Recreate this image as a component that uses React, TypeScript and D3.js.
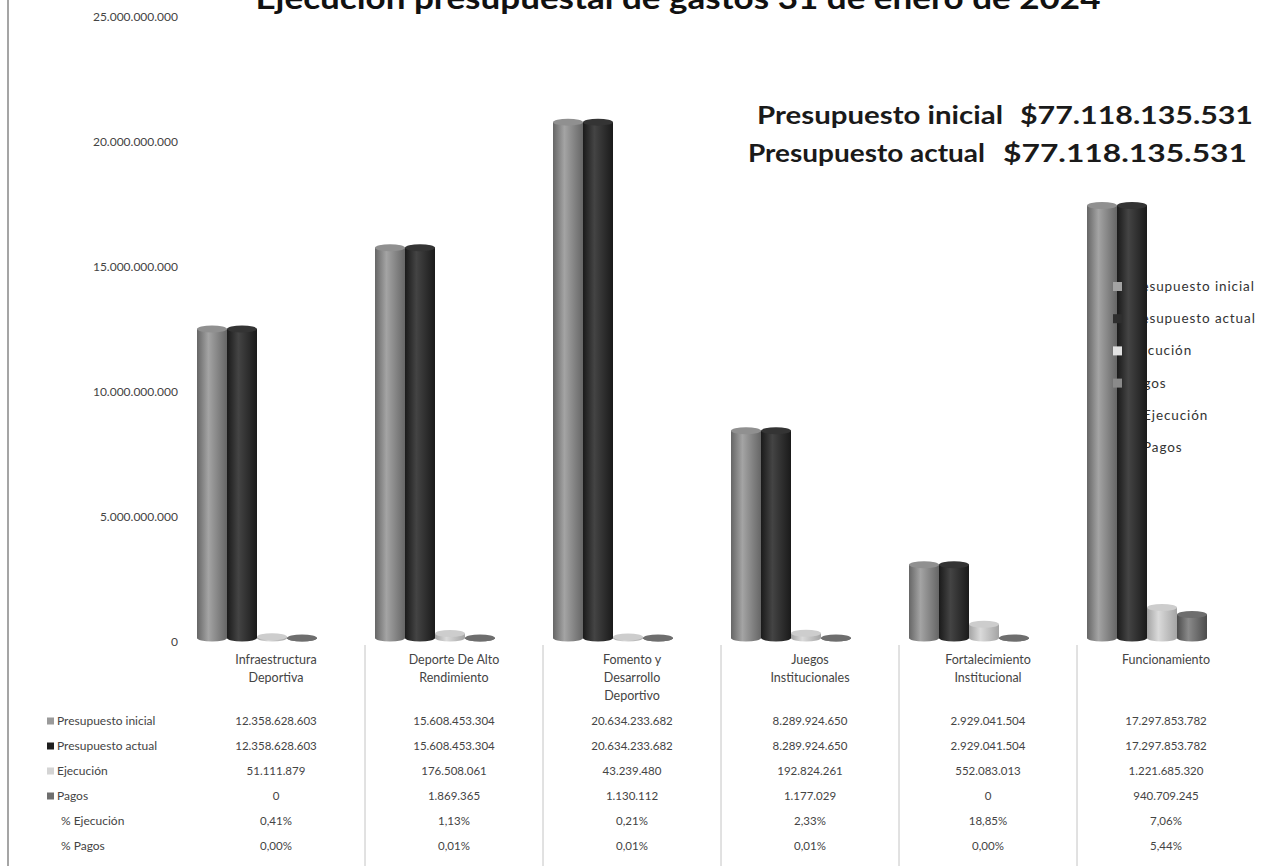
import * as d3 from 'd3'

const W = 1274
const H = 866

// categories (line-broken the way the chart's table shows them)
const categories = [
  'Infraestructura Deportiva',
  'Deporte De Alto Rendimiento',
  'Fomento y Desarrollo Deportivo',
  'Juegos Institucionales',
  'Fortalecimiento Institucional',
  'Funcionamiento',
]
const categoryLines = [
  ['Infraestructura', 'Deportiva'],
  ['Deporte De Alto', 'Rendimiento'],
  ['Fomento y', 'Desarrollo', 'Deportivo'],
  ['Juegos', 'Institucionales'],
  ['Fortalecimiento', 'Institucional'],
  ['Funcionamiento'],
]

const presupuestoInicial = [12358628603, 15608453304, 20634233682, 8289924650, 2929041504, 17297853782]
const presupuestoActual = [12358628603, 15608453304, 20634233682, 8289924650, 2929041504, 17297853782]
const ejecucion = [51111879, 176508061, 43239480, 192824261, 552083013, 1221685320]
const pagos = [0, 1869365, 1130112, 1177029, 0, 940709245]
const pctEjecucion = [0.41, 1.13, 0.21, 2.33, 18.85, 7.06]
const pctPagos = [0.0, 0.01, 0.01, 0.01, 0.0, 5.44]

const yTicks = [0, 5e9, 10e9, 15e9, 20e9, 25e9]

const title = 'Ejecución presupuestal de gastos 31 de enero de 2024'
const totalInicial = 77118135531
const totalActual = 77118135531

const series = [
  { key: 'inicial', name: 'Presupuesto inicial', values: presupuestoInicial, edge: '#666', mid: '#a4a4a4', top: '#909090' },
  { key: 'actual', name: 'Presupuesto actual', values: presupuestoActual, edge: '#1a1a1a', mid: '#444', top: '#343434' },
  { key: 'ejec', name: 'Ejecución', values: ejecucion, edge: '#a4a4a4', mid: '#dadada', top: '#cdcdcd' },
  { key: 'pagos', name: 'Pagos', values: pagos, edge: '#4c4c4c', mid: '#8a8a8a', top: '#6e6e6e' },
]

const legendNames = ['Presupuesto inicial', 'Presupuesto actual', 'Ejecución', 'Pagos', '% Ejecución', '% Pagos']
const legendMarks = ['#a3a3a3', '#2e2e2e', '#e2e2e2', '#8a8a8a', null, null]

const es = d3.formatLocale({ decimal: ',', thousands: '.', grouping: [3], currency: ['$', ''] })
const fmtInt = es.format(',.0f')
const fmtPct = es.format('.2f')
const fmtMoney = es.format('$,.0f')

const font = 'Lato, "Open Sans", sans-serif'

export default function App() {
  const y = d3.scaleLinear().domain([0, 25e9]).range([638, 13])
  const x = d3.scaleBand().domain(categories).range([187, 187 + 6 * 178])
  const sub = d3.scaleBand().domain(series.map(s => s.key)).range([0, 120]).paddingInner(0)
  const barOffset = 10
  const ry = 3.5

  const rowY = d3.scaleLinear().domain([0, 1]).range([721, 746])
  const rows = [
    { label: 'Presupuesto inicial', mark: '#9a9a9a', cells: presupuestoInicial.map(fmtInt) },
    { label: 'Presupuesto actual', mark: '#1e1e1e', cells: presupuestoActual.map(fmtInt) },
    { label: 'Ejecución', mark: '#d4d4d4', cells: ejecucion.map(fmtInt) },
    { label: 'Pagos', mark: '#6e6e6e', cells: pagos.map(fmtInt) },
    { label: '% Ejecución', mark: null, cells: pctEjecucion.map(v => fmtPct(v) + '%') },
    { label: '% Pagos', mark: null, cells: pctPagos.map(v => fmtPct(v) + '%') },
  ]

  const legendY = (i: number) => 287 + i * 32.2

  return (
    <svg width={W} height={H} style={{ position: 'absolute', left: 0, top: 0, background: '#fff' }} fontFamily={font}>
      <defs>
        {series.map(s => (
          <linearGradient key={s.key} id={'g-' + s.key} x1="0" x2="1" y1="0" y2="0">
            <stop offset="0%" stopColor={s.edge} />
            <stop offset="38%" stopColor={s.mid} />
            <stop offset="100%" stopColor={s.edge} />
          </linearGradient>
        ))}
      </defs>

      {/* left frame edge */}
      <line x1={8} x2={8} y1={0} y2={H} stroke="#8f8f8f" strokeWidth={1.6} />

      {/* title, cropped at top as in the scan */}
      <text x={678} y={9} textAnchor="middle" fontSize={31} fontWeight={700} fill="#111"
        textLength={845} lengthAdjust="spacingAndGlyphs">{title}</text>

      {/* y axis labels */}
      {yTicks.map(t => (
        <text key={t} x={178} y={y(t) + 8} textAnchor="end" fontSize={12} fill="#444">
          {t === 0 ? '0' : fmtInt(t)}
        </text>
      ))}

      {/* totals annotation */}
      <g fontSize={25} fontWeight={700} fill="#1a1a1a">
        <text x={1003} y={124} textAnchor="end" textLength={246} lengthAdjust="spacingAndGlyphs">Presupuesto inicial</text>
        <text x={1253} y={124} textAnchor="end" textLength={233} lengthAdjust="spacingAndGlyphs">{fmtMoney(totalInicial)}</text>
        <text x={985} y={162} textAnchor="end" textLength={237} lengthAdjust="spacingAndGlyphs">Presupuesto actual</text>
        <text x={1247} y={162} textAnchor="end" textLength={244} lengthAdjust="spacingAndGlyphs">{fmtMoney(totalActual)}</text>
      </g>

      {/* legend text sits behind the last group of cylinders */}
      <g fontSize={13.5} fill="#333" letterSpacing={0.9}>
        {legendNames.map((n, i) => (
          <text key={n} x={1127} y={legendY(i) + 4}>{n}</text>
        ))}
      </g>

      {/* cylinders */}
      {categories.map((c, i) => (
        <g key={c}>
          {series.map(s => {
            const bx = (x(c) as number) + barOffset + (sub(s.key) as number)
            const bw = sub.bandwidth()
            const y0 = y(0)
            const y1 = y(s.values[i])
            const cx = bx + bw / 2
            return (
              <g key={s.key}>
                <path
                  d={`M${bx},${y1} L${bx},${y0} A${bw / 2},${ry} 0 0 0 ${bx + bw},${y0} L${bx + bw},${y1} Z`}
                  fill={`url(#g-${s.key})`}
                />
                <ellipse cx={cx} cy={y1} rx={bw / 2} ry={ry} fill={s.top} />
              </g>
            )
          })}
        </g>
      ))}

      {/* legend markers over the bars */}
      {legendMarks.map((m, i) =>
        m ? <rect key={i} x={1113} y={legendY(i) - 5} width={9} height={9} fill={m} /> : null
      )}

      {/* data table */}
      {categories.slice(1).map(c => (
        <line key={c} x1={x(c) as number} x2={x(c) as number} y1={645} y2={H} stroke="#c4c4c4" strokeWidth={1} />
      ))}
      <g fill="#444" textAnchor="middle">
        {categories.map((c, i) => (
          <g key={c}>
            {categoryLines[i].map((l, j) => (
              <text key={j} x={(x(c) as number) + x.bandwidth() / 2} y={664 + j * 18} fontSize={12.5}>{l}</text>
            ))}
            {rows.map((r, k) => (
              <text key={k} x={(x(c) as number) + x.bandwidth() / 2} y={rowY(k) + 4} fontSize={11.5}>{r.cells[i]}</text>
            ))}
          </g>
        ))}
      </g>
      <g fontSize={12} fill="#444">
        {rows.map((r, k) => (
          <g key={k}>
            {r.mark && <rect x={47} y={rowY(k) - 3.5} width={7} height={7} fill={r.mark} />}
            <text x={r.mark ? 57 : 61} y={rowY(k) + 4}>{r.label}</text>
          </g>
        ))}
      </g>
    </svg>
  )
}
